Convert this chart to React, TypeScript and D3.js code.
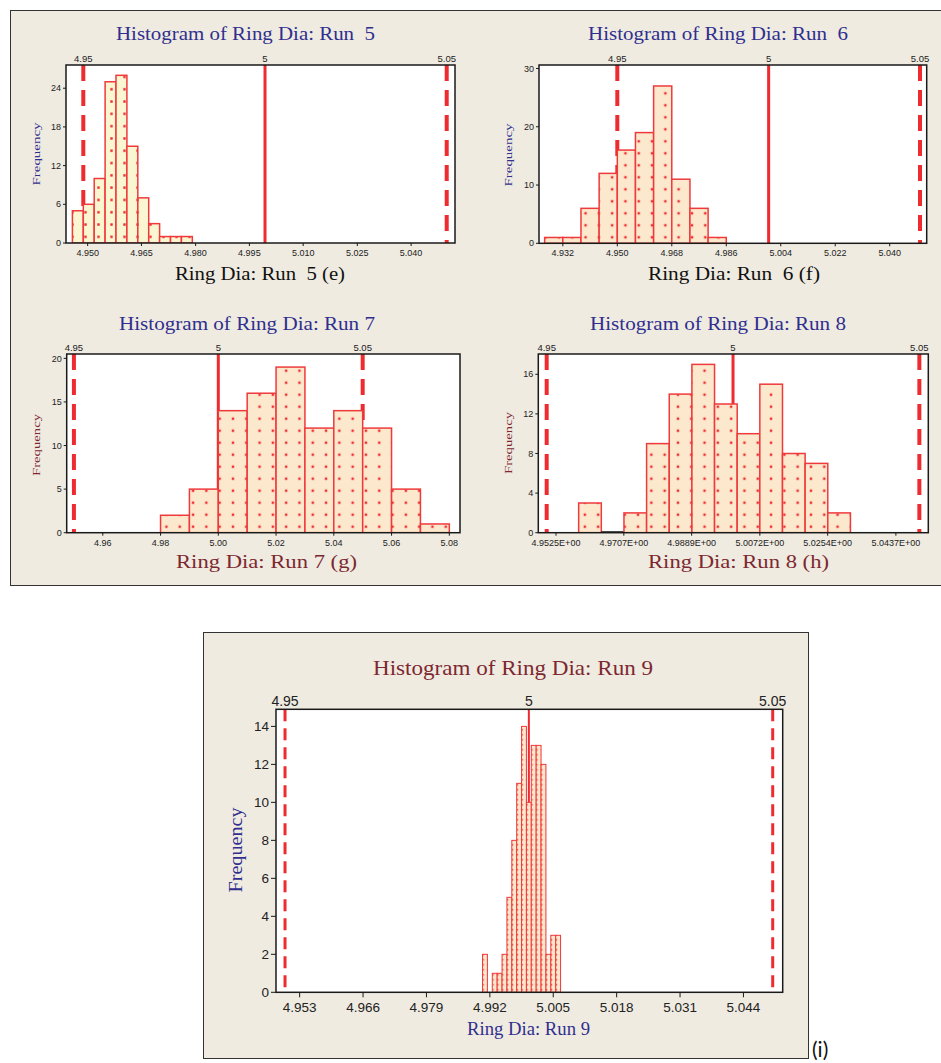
import React from "react";
import * as d3 from "d3";

// ---------- DATA ----------
const refValues = [4.95, 5, 5.05];
const refLabels = ["4.95", "5", "5.05"];
const refDashed = [true, false, true];

// Run 5
const run5Counts = [5, 6, 10, 25, 26, 15, 7, 3, 1, 1, 1];
const run5BinStart = 4.947;
const run5BinWidth = 0.003;
const run5TickValues = [4.9512, 4.966, 4.9809, 4.9957, 5.0105, 5.0254, 5.0402];
const run5TickLabels = ["4.950", "4.965", "4.980", "4.995", "5.010", "5.025", "5.040"];
const run5YTicks = [0, 6, 12, 18, 24];

// Run 6
const run6Counts = [1, 1, 6, 12, 16, 19, 27, 11, 6, 1];
const run6BinStart = 4.926;
const run6BinWidth = 0.006;
const run6TickValues = [4.932, 4.95, 4.968, 4.986, 5.004, 5.022, 5.04];
const run6TickLabels = ["4.932", "4.950", "4.968", "4.986", "5.004", "5.022", "5.040"];
const run6YTicks = [0, 10, 20, 30];

// Run 7
const run7Counts = [2, 5, 14, 16, 19, 12, 14, 12, 5, 1];
const run7BinStart = 4.98;
const run7BinWidth = 0.01;
const run7TickValues = [4.96, 4.98, 5.0, 5.02, 5.04, 5.06, 5.08];
const run7TickLabels = ["4.96", "4.98", "5.00", "5.02", "5.04", "5.06", "5.08"];
const run7YTicks = [0, 5, 10, 15, 20];

// Run 8
const run8Counts = [3, 0, 2, 9, 14, 17, 13, 10, 15, 8, 7, 2];
const run8BinStart = 4.95858;
const run8BinWidth = 0.006077;
const run8TickValues = [4.9525, 4.9707, 4.9889, 5.0072, 5.0254, 5.0437];
const run8TickLabels = ["4.9525E+00", "4.9707E+00", "4.9889E+00", "5.0072E+00", "5.0254E+00", "5.0437E+00"];
const run8YTicks = [0, 4, 8, 12, 16];

// Run 9
const run9Counts = [2, 0, 1, 1, 2, 5, 8, 11, 14, 10, 13, 13, 12, 2, 3, 3];
const run9BinStart = 4.9905;
const run9BinWidth = 0.001;
const run9TickValues = [4.953, 4.966, 4.979, 4.992, 5.005, 5.018, 5.031, 5.044];
const run9TickLabels = ["4.953", "4.966", "4.979", "4.992", "5.005", "5.018", "5.031", "5.044"];
const run9YTicks = [0, 2, 4, 6, 8, 10, 12, 14];

// ---------- STYLE ----------
const NAVY = "#2f2f8f";
const MAROON = "#7d2830";
const RED = "#ee2b2f";
const BAR_STROKE = "#ef3a3c";
const BG = "#efebe1";
const SANS = "'Liberation Sans', Arial, sans-serif";
const SERIF = "'Liberation Serif', 'Times New Roman', serif";

type TextSpec = { x: number; y: number; text: string; len: number; size: number; color: string };

type PanelCfg = {
  id: string;
  counts: number[];
  binStart: number;
  binWidth: number;
  tickValues: number[];
  tickLabels: string[];
  yTicks: number[];
  xDomain: [number, number];
  yMax: number;
  left: number;
  right: number;
  top: number;
  bottom: number;
  fill: string;
  patW: number;
  patH: number;
  dot: number;
  barStrokeW: number;
  dashW: number;
  dashArray: string;
  solidW: number;
  fontSize: number;
  tickLen: number;
  title: TextSpec;
  xlabel: TextSpec;
  ylabel: TextSpec;
  zeroBlack?: boolean;
};

const panels: PanelCfg[] = [
  {
    id: "r5",
    counts: run5Counts, binStart: run5BinStart, binWidth: run5BinWidth,
    tickValues: run5TickValues, tickLabels: run5TickLabels, yTicks: run5YTicks,
    xDomain: [4.94524, 5.05228], yMax: 27.6,
    left: 66, right: 455, top: 65, bottom: 243,
    fill: "#fbf6d2", patW: 13, patH: 12.3, dot: 2.4, barStrokeW: 1.5,
    dashW: 4, dashArray: "16,9", solidW: 3, fontSize: 9, tickLen: 3,
    title: { x: 245.5, y: 40, text: "Histogram of Ring Dia: Run  5", len: 259, size: 19, color: NAVY },
    xlabel: { x: 260, y: 280, text: "Ring Dia: Run  5 (e)", len: 170, size: 18, color: "#111" },
    ylabel: { x: 40, y: 154, text: "Frequency", len: 63, size: 11, color: NAVY },
  },
  {
    id: "r6",
    counts: run6Counts, binStart: run6BinStart, binWidth: run6BinWidth,
    tickValues: run6TickValues, tickLabels: run6TickLabels, yTicks: run6YTicks,
    xDomain: [4.92413, 5.05222], yMax: 30.6,
    left: 539, right: 926.7, top: 65, bottom: 243.3,
    fill: "#fce8cd", patW: 13.3, patH: 12, dot: 2.4, barStrokeW: 1.5,
    dashW: 4, dashArray: "16,9", solidW: 3, fontSize: 9, tickLen: 3,
    title: { x: 718, y: 40, text: "Histogram of Ring Dia: Run  6", len: 260, size: 19, color: NAVY },
    xlabel: { x: 734, y: 280, text: "Ring Dia: Run  6 (f)", len: 172, size: 18, color: "#111" },
    ylabel: { x: 512, y: 155, text: "Frequency", len: 63, size: 11, color: NAVY },
  },
  {
    id: "r7",
    counts: run7Counts, binStart: run7BinStart, binWidth: run7BinWidth,
    tickValues: run7TickValues, tickLabels: run7TickLabels, yTicks: run7YTicks,
    xDomain: [4.9475, 5.0837], yMax: 20.5,
    left: 66.7, right: 460, top: 354, bottom: 532.7,
    fill: "#fce8cd", patW: 13.3, patH: 12, dot: 2.4, barStrokeW: 1.5,
    dashW: 4, dashArray: "16,9", solidW: 3, fontSize: 9, tickLen: 3,
    title: { x: 247, y: 330, text: "Histogram of Ring Dia: Run 7", len: 256, size: 19, color: NAVY },
    xlabel: { x: 266.5, y: 568, text: "Ring Dia: Run 7 (g)", len: 181, size: 19, color: MAROON },
    ylabel: { x: 40, y: 445, text: "Frequency", len: 62, size: 11, color: MAROON },
  },
  {
    id: "r8",
    counts: run8Counts, binStart: run8BinStart, binWidth: run8BinWidth,
    tickValues: run8TickValues, tickLabels: run8TickLabels, yTicks: run8YTicks,
    xDomain: [4.94775, 5.0524], yMax: 18.05,
    left: 538.3, right: 928.3, top: 354, bottom: 532.7,
    fill: "#fce8cd", patW: 13.3, patH: 12, dot: 2.4, barStrokeW: 1.5,
    dashW: 4, dashArray: "16,9", solidW: 3, fontSize: 9, tickLen: 3,
    title: { x: 718, y: 330, text: "Histogram of Ring Dia: Run 8", len: 256, size: 19, color: NAVY },
    xlabel: { x: 738.5, y: 568, text: "Ring Dia: Run 8 (h)", len: 181, size: 19, color: MAROON },
    ylabel: { x: 512, y: 443, text: "Frequency", len: 62, size: 11, color: MAROON },
    zeroBlack: true,
  },
  {
    id: "r9",
    counts: run9Counts, binStart: run9BinStart, binWidth: run9BinWidth,
    tickValues: run9TickValues, tickLabels: run9TickLabels, yTicks: run9YTicks,
    xDomain: [4.94815, 5.05205], yMax: 14.9,
    left: 276, right: 782.7, top: 709.3, bottom: 992.3,
    fill: "#fce8cd", patW: 4.875, patH: 5, dot: 1.5, barStrokeW: 1,
    dashW: 3, dashArray: "12,7", solidW: 2, fontSize: 13.5, tickLen: 5,
    title: { x: 513, y: 675, text: "Histogram of Ring Dia: Run 9", len: 280, size: 21, color: MAROON },
    xlabel: { x: 528.5, y: 1035, text: "Ring Dia: Run 9", len: 123, size: 18, color: NAVY },
    ylabel: { x: 242, y: 850, text: "Frequency", len: 85, size: 18, color: NAVY },
  },
];

function Label({ s, rotate }: { s: TextSpec; rotate?: boolean }) {
  return (
    <text
      x={rotate ? 0 : s.x}
      y={rotate ? 0 : s.y}
      transform={rotate ? `translate(${s.x},${s.y}) rotate(-90)` : undefined}
      textAnchor="middle"
      fontFamily={SERIF}
      fontSize={s.size}
      fill={s.color}
      textLength={s.len}
      lengthAdjust="spacingAndGlyphs"
      style={{ whiteSpace: "pre" }}
    >
      {s.text}
    </text>
  );
}

function Histogram({ cfg }: { cfg: PanelCfg }) {
  const x = d3.scaleLinear().domain(cfg.xDomain).range([cfg.left, cfg.right]);
  const y = d3.scaleLinear().domain([0, cfg.yMax]).range([cfg.bottom, cfg.top]);
  const clipId = `clip-${cfg.id}`;
  const patId = `pat-${cfg.id}`;
  const bins = cfg.counts.map((c, i) => {
    const x0 = cfg.binStart + i * cfg.binWidth;
    return { c, x0, x1: x0 + cfg.binWidth };
  });
  return (
    <g>
      <defs>
        <clipPath id={clipId}>
          <rect x={cfg.left} y={cfg.top} width={cfg.right - cfg.left} height={cfg.bottom - cfg.top} />
        </clipPath>
        <pattern
          id={patId}
          patternUnits="userSpaceOnUse"
          x={cfg.left}
          y={cfg.bottom}
          width={cfg.patW}
          height={cfg.patH}
        >
          <rect width={cfg.patW} height={cfg.patH} fill={cfg.fill} />
          <rect
            x={cfg.patW / 2 - cfg.dot / 2}
            y={cfg.patH / 2 - cfg.dot / 2}
            width={cfg.dot}
            height={cfg.dot}
            fill={RED}
          />
        </pattern>
      </defs>
      <rect x={cfg.left} y={cfg.top} width={cfg.right - cfg.left} height={cfg.bottom - cfg.top} fill="#fff" />
      <g clipPath={`url(#${clipId})`}>
        {refValues.map((v, i) => (
          <line
            key={i}
            x1={x(v)}
            x2={x(v)}
            y1={cfg.top}
            y2={cfg.bottom}
            stroke={RED}
            strokeWidth={refDashed[i] ? cfg.dashW : cfg.solidW}
            strokeDasharray={refDashed[i] ? cfg.dashArray : undefined}
          />
        ))}
        {bins.map((b, i) =>
          b.c > 0 ? (
            <rect
              key={i}
              x={x(b.x0)}
              y={y(b.c)}
              width={x(b.x1) - x(b.x0)}
              height={y(0) - y(b.c)}
              fill={`url(#${patId})`}
              stroke={BAR_STROKE}
              strokeWidth={cfg.barStrokeW}
            />
          ) : cfg.zeroBlack ? (
            <line key={i} x1={x(b.x0)} x2={x(b.x1)} y1={y(0)} y2={y(0)} stroke="#111" strokeWidth={3} />
          ) : null
        )}
      </g>
      <rect
        x={cfg.left}
        y={cfg.top}
        width={cfg.right - cfg.left}
        height={cfg.bottom - cfg.top}
        fill="none"
        stroke="#1a1a1a"
        strokeWidth={1.5}
      />
      {/* reference line labels */}
      {refValues.map((v, i) => (
        <text
          key={i}
          x={x(v)}
          y={cfg.top - 3}
          textAnchor="middle"
          fontFamily={SANS}
          fontSize={cfg.fontSize + 0.5}
          fill="#222"
        >
          {refLabels[i]}
        </text>
      ))}
      {/* x ticks */}
      {cfg.tickValues.map((v, i) => (
        <g key={i}>
          <line x1={x(v)} x2={x(v)} y1={cfg.bottom} y2={cfg.bottom + cfg.tickLen} stroke="#1a1a1a" strokeWidth={1} />
          <text
            x={x(v)}
            y={cfg.bottom + cfg.tickLen + cfg.fontSize + 1}
            textAnchor="middle"
            fontFamily={SANS}
            fontSize={cfg.fontSize}
            fill="#222"
          >
            {cfg.tickLabels[i]}
          </text>
        </g>
      ))}
      {/* y ticks */}
      {cfg.yTicks.map((t) => (
        <g key={t}>
          <line x1={cfg.left - cfg.tickLen} x2={cfg.left} y1={y(t)} y2={y(t)} stroke="#1a1a1a" strokeWidth={1} />
          <text
            x={cfg.left - cfg.tickLen - 2}
            y={y(t)}
            dy="0.35em"
            textAnchor="end"
            fontFamily={SANS}
            fontSize={cfg.fontSize}
            fill="#222"
          >
            {t}
          </text>
        </g>
      ))}
      <Label s={cfg.title} />
      <Label s={cfg.xlabel} />
      <Label s={cfg.ylabel} rotate />
    </g>
  );
}

export default function App() {
  return (
    <svg
      width={941}
      height={1063}
      style={{ position: "absolute", left: 0, top: 0, background: "#fff" }}
    >
      <rect x={10.5} y={10.5} width={940} height={575} fill={BG} stroke="#333" strokeWidth={1} />
      <rect x={203.5} y={632.5} width={605} height={426} fill={BG} stroke="#333" strokeWidth={1} />
      {panels.map((p) => (
        <Histogram key={p.id} cfg={p} />
      ))}
      <text x={812} y={1057} fontFamily="Lato, 'Open Sans', sans-serif" fontSize={21} fill="#111">
        (i)
      </text>
    </svg>
  );
}
